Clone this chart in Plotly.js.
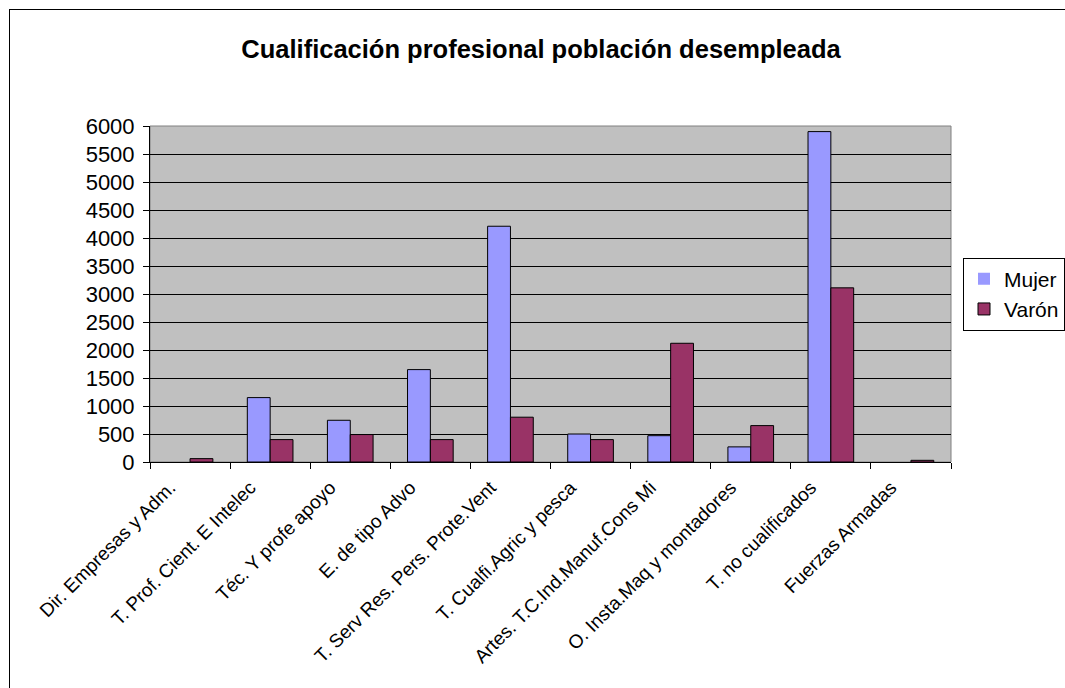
<!DOCTYPE html>
<html>
<head>
<meta charset="utf-8">
<script src="https://cdn.plot.ly/plotly-3.0.1.min.js"></script>
<style>
  html, body { margin: 0; padding: 0; background: #fff; }
  #wrap { position: relative; width: 1065px; height: 688px; overflow: hidden; }
  #chart { width: 1065px; height: 688px; }
  #frame { position: absolute; left: 9px; top: 9px; width: 1100px; height: 720px;
           border: 1.5px solid #000; pointer-events: none; box-sizing: border-box; }
</style>
</head>
<body>
<div id="wrap">
  <div id="chart"></div>
  <div id="frame"></div>
</div>
<script>
const categories = [
  "Dir. Empresas y Adm.",
  "T. Prof. Cient. E Intelec",
  "Téc. Y profe apoyo",
  "E. de tipo Advo",
  "T. Serv Res. Pers. Prote.Vent",
  "T. Cualfi.Agric y pesca",
  "Artes. T.C.Ind.Manuf.Cons Mi",
  "O. Insta.Maq y montadores",
  "T. no cualificados",
  "Fuerzas Armadas"
];
const mujer = [0, 1150, 745, 1650, 4210, 500, 470, 270, 5900, 0];
const varon = [60, 400, 490, 400, 800, 400, 2120, 650, 3110, 30];
const yTicks = [0, 500, 1000, 1500, 2000, 2500, 3000, 3500, 4000, 4500, 5000, 5500, 6000];

const FONT = '"Liberation Sans", Arial, sans-serif';

function outline(vals) { return vals.map(v => v > 0 ? 1 : 0); }

const traces = [
  { type: 'bar', name: 'Mujer', x: categories, y: mujer,
    marker: { color: '#9999FF', line: { color: '#000', width: outline(mujer) } } },
  { type: 'bar', name: 'Varón', x: categories, y: varon,
    marker: { color: '#993366', line: { color: '#000', width: outline(varon) } } }
];

const layout = {
  width: 1065, height: 688,
  margin: { l: 150, r: 114, t: 126, b: 226 },
  paper_bgcolor: '#fff',
  plot_bgcolor: '#C0C0C0',
  font: { family: FONT, color: '#000' },
  barmode: 'group',
  bargap: 0.43,
  bargroupgap: 0,
  title: {
    text: '<b>Cualificación profesional población desempleada</b>',
    font: { family: FONT, size: 25.5, color: '#000' },
    xref: 'container', x: 0.508, xanchor: 'center',
    yref: 'container', y: 1 - 49/688, yanchor: 'middle'
  },
  xaxis: {
    type: 'category',
    tickangle: -45,
    tickfont: { family: FONT, size: 19, color: '#000' },
    ticks: 'outside', ticklen: 6, tickcolor: '#000', tickwidth: 1,
    tickson: 'boundaries',
    ticklabelshift: -20, ticklabelstandoff: 6,
    showline: true, linecolor: '#000', linewidth: 1,
    showgrid: false, zeroline: false, fixedrange: true
  },
  yaxis: {
    range: [0, 6000],
    tickmode: 'array', tickvals: yTicks, ticktext: yTicks.map(String),
    tickfont: { family: FONT, size: 22, color: '#000' },
    ticks: 'outside', ticklen: 6, tickcolor: '#000', tickwidth: 1,
    ticklabelstandoff: 4,
    showline: true, linecolor: '#000', linewidth: 1,
    showgrid: true, gridcolor: '#000', gridwidth: 1,
    zeroline: false, fixedrange: true
  },
  shapes: [
    { type: 'rect', xref: 'paper', yref: 'paper', x0: 0, x1: 1, y0: 0, y1: 1,
      line: { color: '#808080', width: 1 }, layer: 'below' }
  ],
  showlegend: true,
  legend: {
    xref: 'container', yref: 'container',
    x: 963/1065, xanchor: 'left', y: 1 - 294/688, yanchor: 'middle',
    bgcolor: '#fff', bordercolor: '#000', borderwidth: 1,
    font: { family: FONT, size: 21, color: '#000' },
    itemwidth: 30,
    tracegroupgap: 16
  }
};

Plotly.newPlot('chart', traces, layout, { displayModeBar: false, staticPlot: true });
</script>
</body>
</html>
